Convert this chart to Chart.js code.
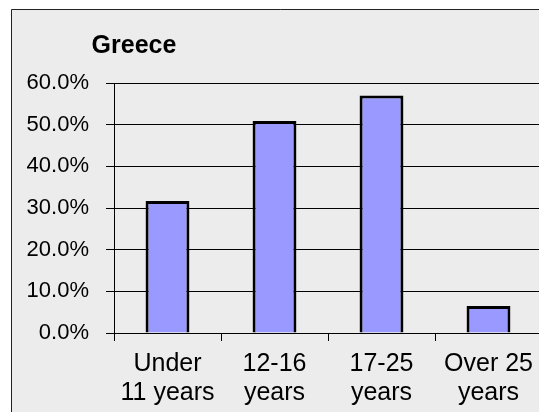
<!DOCTYPE html>
<html>
<head>
<meta charset="utf-8">
<script src="https://cdn.jsdelivr.net/npm/chart.js@4"></script>
<style>
  html, body { margin: 0; padding: 0; background: #fff; overflow: hidden; }
  #chart { display: block; }
</style>
</head>
<body>
<canvas id="chart" width="548" height="412"></canvas>
<script>
const categories = [['Under', '11 years'], ['12-16', 'years'], ['17-25', 'years'], ['Over 25', 'years']];
const shares = [31.7, 50.9, 57.0, 6.5];
const yTicks = [0, 10, 20, 30, 40, 50, 60];
const chartTitle = 'Greece';

const FONT = '"Liberation Sans", Arial, Helvetica, sans-serif';

// grey panel with a thin frame behind everything, plus the heading
const panel = {
    id: 'panel',
    beforeDraw(chart) {
        const ctx = chart.ctx;
        ctx.save();
        ctx.fillStyle = '#ffffff';
        ctx.fillRect(0, 0, chart.width, chart.height);
        ctx.fillStyle = '#ececec';
        ctx.fillRect(11, 9, chart.width, chart.height);
        ctx.strokeStyle = '#222';
        ctx.lineWidth = 1;
        ctx.beginPath();
        ctx.moveTo(11.5, chart.height + 2);
        ctx.lineTo(11.5, 9.5);
        ctx.lineTo(chart.width + 2, 9.5);
        ctx.stroke();
        ctx.restore();
    },
    afterDraw(chart) {
        const ctx = chart.ctx;
        ctx.save();
        ctx.fillStyle = '#000';
        ctx.font = 'bold 25px ' + FONT;
        ctx.textAlign = 'center';
        ctx.textBaseline = 'alphabetic';
        ctx.fillText(chartTitle, 134, 53);
        ctx.restore();
    }
};

new Chart(document.getElementById('chart'), {
    type: 'bar',
    data: {
        labels: categories,
        datasets: [{
            data: shares,
            backgroundColor: '#9999ff',
            borderColor: '#000',
            borderWidth: 3,
            barPercentage: 0.41,
            categoryPercentage: 1
        }]
    },
    options: {
        responsive: false,
        animation: false,
        devicePixelRatio: 1,
        layout: { padding: { left: 0, top: 83, right: 6, bottom: 0 } },
        plugins: {
            legend: { display: false },
            title: { display: false },
            tooltip: { enabled: false }
        },
        scales: {
            x: {
                offset: true,
                afterFit: s => { s.height = 79; },
                grid: {
                    offset: true,
                    drawOnChartArea: false,
                    drawTicks: true,
                    tickLength: 8,
                    color: '#000'
                },
                border: { display: true, color: '#000', width: 1 },
                ticks: {
                    color: '#000',
                    padding: 8,
                    maxRotation: 0,
                    autoSkip: false,
                    font: { family: FONT, size: 25, lineHeight: 1.17 }
                }
            },
            y: {
                min: 0,
                max: 60,
                afterFit: s => { s.width = 114; },
                afterBuildTicks: s => { s.ticks = yTicks.map(v => ({ value: v })); },
                grid: {
                    color: '#000',
                    lineWidth: 1,
                    tickLength: 8
                },
                border: { display: true, color: '#000', width: 1 },
                ticks: {
                    color: '#000',
                    padding: 17,
                    font: { family: FONT, size: 22 },
                    callback: v => v.toFixed(1) + '%'
                }
            }
        }
    },
    plugins: [panel]
});
</script>
</body>
</html>
